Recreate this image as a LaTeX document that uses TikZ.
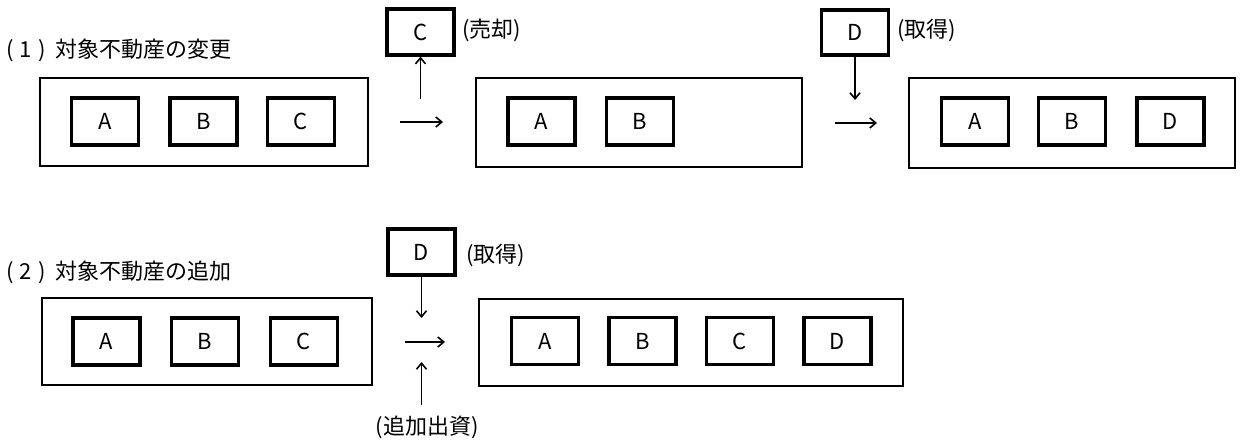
\documentclass[tikz,border=0pt]{standalone}
\usepackage{fontspec}
\setmainfont{Noto Sans CJK JP}
\usetikzlibrary{arrows.meta}
\tikzset{
  outerbox/.style={draw, line width=0.8pt, rectangle, inner sep=0pt},
  item/.style={draw, line width=1.6pt, rectangle, inner sep=0pt, minimum width=33.5pt, minimum height=23.5pt, font=\fontsize{11}{12}\selectfont},
  title/.style={anchor=west, inner sep=0pt, font=\fontsize{11}{13}\selectfont},
  lbl/.style={inner sep=0pt, font=\fontsize{11}{13}\selectfont},
  flow/.style={line width=0.8pt, -{Straight Barb[length=3pt,width=5pt]}}
}
\begin{document}
\begin{tikzpicture}[x=0.5pt,y=-0.5pt]
\useasboundingbox (0,0) rectangle (1242,443);
% ---- Row 1
\node[title] (t1) at (6,50) {(\;1\;)\hspace{5pt}対象不動産の変更};
\node[outerbox, minimum width=164pt, minimum height=44pt] (o1) at (204,122) {};
\node[item] (a1) at (105,121.5) {A};
\node[item] (b1) at (203.5,121.5) {B};
\node[item] (c1) at (301,121.5) {C};
\coordinate (p1s) at (400,122);
\coordinate (p1e) at (443,122);
\draw[flow] (p1s) -- (p1e);
\node[item, minimum height=23pt] (ctop) at (420.5,32) {C};
\coordinate (cu) at (420.5,99);
\draw[flow] (cu) -- (ctop.south);
\node[lbl, anchor=west] (sell) at (462,30) {(売却)};
\node[outerbox, minimum width=163pt, minimum height=44.5pt] (o2) at (639,122.5) {};
\node[item] (a2) at (541.5,121.5) {A};
\node[item] (b2) at (640,121.5) {B};
\coordinate (p2s) at (835,123);
\coordinate (p2e) at (877,123);
\draw[flow] (p2s) -- (p2e);
\node[item, minimum height=22.5pt] (dtop) at (855,32.5) {D};
\coordinate (dd) at (855,100);
\draw[flow] (dtop.south) -- (dd);
\node[lbl, anchor=west] (acq1) at (897,30) {(取得)};
\node[outerbox, minimum width=163pt, minimum height=45pt] (o3) at (1072,123) {};
\node[item] (a3) at (975,121.5) {A};
\node[item] (b3) at (1072,121.5) {B};
\node[item] (d3) at (1170.5,121.5) {D};
% ---- Row 2
\node[title] (t2) at (6,272) {(\;2\;)\hspace{5pt}対象不動産の追加};
\node[outerbox, minimum width=165pt, minimum height=43.5pt] (o4) at (207,341.5) {};
\node[item] (a4) at (106.5,341.5) {A};
\node[item] (b4) at (205,341.5) {B};
\node[item] (c4) at (304,341.5) {C};
\node[item, minimum height=23pt] (dbot) at (421.5,252) {D};
\node[lbl, anchor=west] (acq2) at (466,255) {(取得)};
\coordinate (d2d) at (421.5,318);
\draw[flow] (dbot.south) -- (d2d);
\coordinate (p3s) at (405,342);
\coordinate (p3e) at (445,342);
\draw[flow] (p3s) -- (p3e);
\node[lbl] (inv) at (427,427) {(追加出資)};
\coordinate (iu) at (421.5,405);
\coordinate (ie) at (421.5,362);
\draw[flow] (iu) -- (ie);
\node[outerbox, minimum width=212pt, minimum height=43.5pt] (o5) at (691,342.5) {};
\node[item] (a5) at (545,341) {A};
\node[item] (b5) at (642.5,341) {B};
\node[item] (c5) at (740,341) {C};
\node[item] (d5) at (837.5,341) {D};
\end{tikzpicture}
\end{document}
